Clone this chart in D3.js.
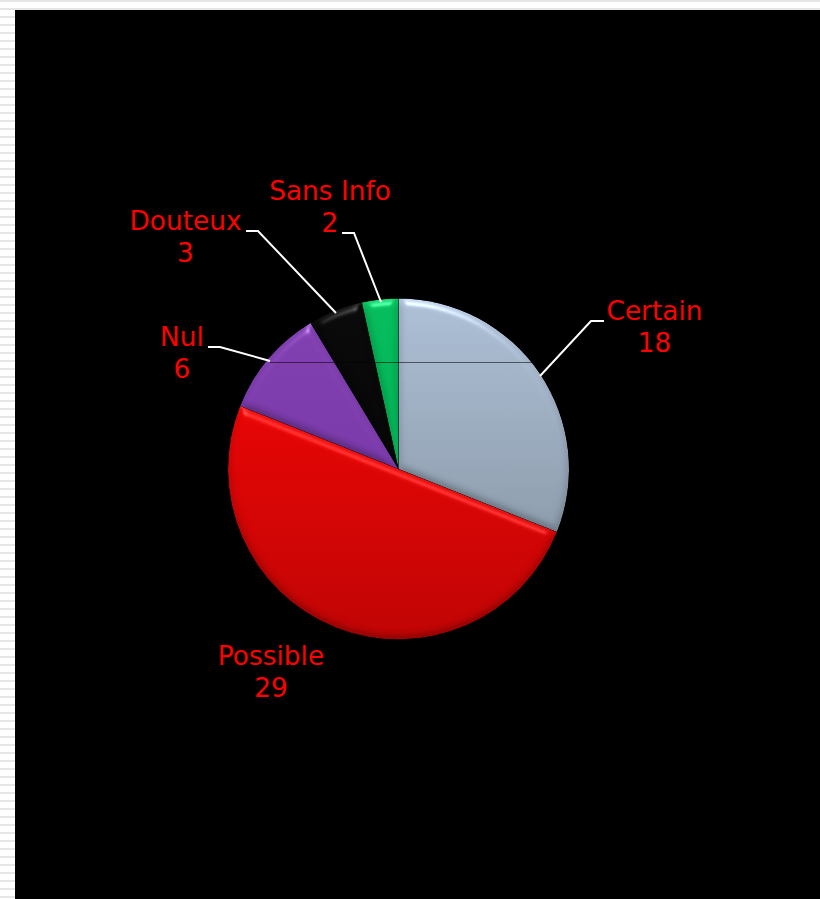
<!DOCTYPE html>
<html>
<head>
<meta charset="utf-8">
<script src="https://cdn.jsdelivr.net/npm/d3@7/dist/d3.min.js"></script>
<style>
html,body{margin:0;padding:0;background:#fff;overflow:hidden}
svg{display:block}
text{font-family:"DejaVu Sans",Verdana,sans-serif;font-size:26.4px;fill:#ff0000;text-anchor:middle}
</style>
</head>
<body>
<svg id="chart" width="820" height="899"></svg>
<script>
// Pie slices, clockwise from twelve o'clock
const categories = ["Certain", "Possible", "Nul", "Douteux", "Sans Info"];
const counts = [18, 29, 6, 3, 2];
const topColors = ["#adbfd6", "#f80505", "#8140b0", "#090909", "#05bd5c"];
const bottomColors = ["#7f8d99", "#c00404", "#7534a4", "#040404", "#04a650"];

// Label centres with first baselines, and leader polylines
const labelX = [654.5, 271, 182, 185.5, 330];
const labelY = [320, 665, 346, 230, 199.5];
const labelGap = [31.5, 31.5, 32, 32, 32.5];
const leaderPaths = [
  [[604, 321], [591, 321], [540, 376]],
  [[208, 347], [220, 347], [270, 361]],
  [[246, 231], [258, 231], [336, 313]],
  [[342, 233], [354, 233], [381, 302]]
];

const width = 820, height = 899;
const cx = 398.5, cy = 469, radius = 170.5;
const svg = d3.select("#chart");
const defs = svg.append("defs");

// Striped page edge
const stripes = defs.append("pattern").attr("id", "stripes")
  .attr("patternUnits", "userSpaceOnUse").attr("width", 8).attr("height", 8);
stripes.append("rect").attr("width", 8).attr("height", 8).attr("fill", "#ffffff");
stripes.append("rect").attr("width", 8).attr("height", 2).attr("fill", "#e6e6e6");
svg.append("rect").attr("width", width).attr("height", height).attr("fill", "url(#stripes)");
svg.append("rect").attr("x", 15).attr("y", 10).attr("width", width - 15).attr("height", height - 10).attr("fill", "#000");

// Rounded bevel lighting for every slice
const bevel = defs.append("filter").attr("id", "bevel")
  .attr("x", "-5%").attr("y", "-5%").attr("width", "110%").attr("height", "110%")
  .attr("color-interpolation-filters", "sRGB");
bevel.append("feGaussianBlur").attr("in", "SourceAlpha").attr("stdDeviation", 4).attr("result", "height");
const spec = bevel.append("feSpecularLighting").attr("in", "height")
  .attr("surfaceScale", 5.5).attr("specularConstant", 0.6).attr("specularExponent", 32)
  .attr("lighting-color", "#ffffff").attr("result", "spec");
spec.append("feDistantLight").attr("azimuth", 270).attr("elevation", 30);
bevel.append("feComposite").attr("in", "spec").attr("in2", "SourceAlpha").attr("operator", "in").attr("result", "specIn");
const diff = bevel.append("feDiffuseLighting").attr("in", "height")
  .attr("surfaceScale", 2.5).attr("diffuseConstant", 1.05)
  .attr("lighting-color", "#ffffff").attr("result", "diff");
diff.append("feDistantLight").attr("azimuth", 270).attr("elevation", 72);
bevel.append("feComposite").attr("in", "SourceGraphic").attr("in2", "diff")
  .attr("operator", "arithmetic").attr("k1", 1).attr("k2", 0).attr("k3", 0).attr("k4", 0).attr("result", "lit");
bevel.append("feComposite").attr("in", "lit").attr("in2", "SourceAlpha").attr("operator", "in").attr("result", "litIn");
bevel.append("feComposite").attr("in", "specIn").attr("in2", "litIn")
  .attr("operator", "arithmetic").attr("k1", 0).attr("k2", 0.5).attr("k3", 1).attr("k4", 0);

// Vertical shading of each slice, spanning the full pie height
categories.forEach((c, i) => {
  const g = defs.append("linearGradient").attr("id", "fill" + i)
    .attr("gradientUnits", "userSpaceOnUse")
    .attr("x1", 0).attr("x2", 0).attr("y1", -radius).attr("y2", radius);
  g.append("stop").attr("offset", 0).attr("stop-color", topColors[i]);
  g.append("stop").attr("offset", 1).attr("stop-color", bottomColors[i]);
});

const pie = d3.pie().sort(null)(counts);
const arc = d3.arc().innerRadius(0).outerRadius(radius);

svg.append("g").attr("transform", `translate(${cx},${cy})`)
  .selectAll("path").data(pie).join("path")
  .attr("d", arc)
  .attr("fill", (d, i) => "url(#fill" + i + ")")
  .attr("filter", "url(#bevel)");

// Thin horizontal rule across the upper pie
svg.append("line").attr("x1", 270).attr("x2", 540).attr("y1", 362.5).attr("y2", 362.5)
  .attr("stroke", "#000").attr("stroke-opacity", 0.55).attr("stroke-width", 1);

// Leader lines
const line = d3.line();
svg.append("g").selectAll("path").data(leaderPaths).join("path")
  .attr("d", line).attr("fill", "none").attr("stroke", "#fff").attr("stroke-width", 2);

// Two-line labels: name, then value
const labels = svg.append("g").selectAll("text").data(categories).join("text")
  .attr("x", (d, i) => labelX[i]).attr("y", (d, i) => labelY[i]);
labels.append("tspan").attr("x", (d, i) => labelX[i]).text(d => d);
labels.append("tspan").attr("x", (d, i) => labelX[i]).attr("dy", (d, i) => labelGap[i]).text((d, i) => counts[i]);
</script>
</body>
</html>
